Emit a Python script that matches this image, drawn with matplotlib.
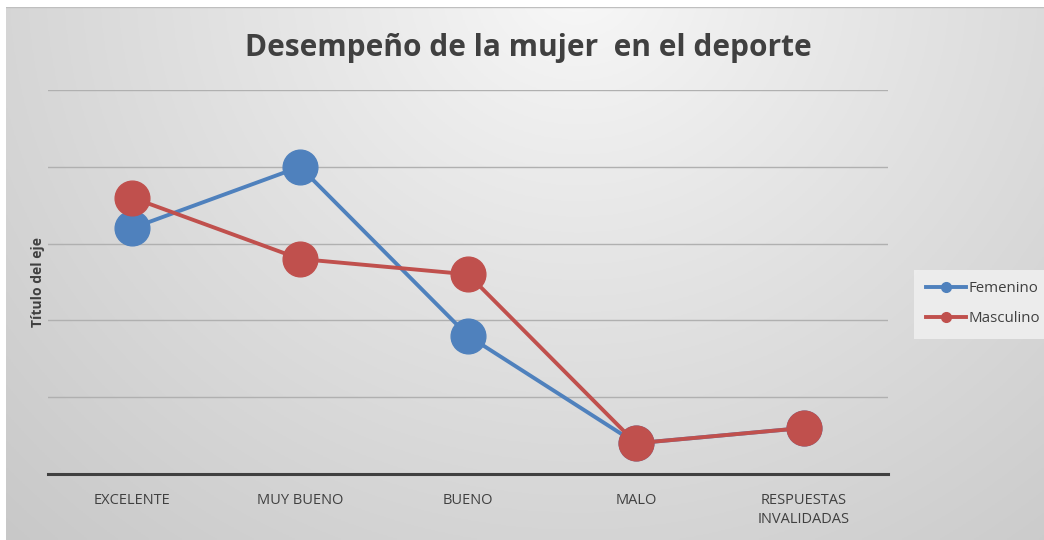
import numpy as np
import matplotlib
matplotlib.use("Agg")
import matplotlib.pyplot as plt
from matplotlib.lines import Line2D

categories = ["EXCELENTE", "MUY BUENO", "BUENO", "MALO", "RESPUESTAS\nINVALIDADAS"]
femenino = [16, 20, 9, 2, 3]
masculino = [18, 14, 13, 2, 3]
series_names = ["Femenino", "Masculino"]
colors = ["#4f81bd", "#c0504d"]

W, H = 1044, 540
fig = plt.figure(figsize=(W / 100, H / 100), dpi=100)
fig.patch.set_facecolor("white")

# background gradient panel
bg = fig.add_axes([6 / W, 0, (W - 6) / W, (H - 7) / H])
bg.set_axis_off()
ny, nx = 200, 400
yy, xx = np.mgrid[0:ny, 0:nx]
cx, cy = nx * 0.55, -ny * 0.05
d = np.sqrt(((xx - cx) / nx) ** 2 + ((yy - cy) / ny * 0.55) ** 2)
d = d / d.max()
val = 0.975 - 0.19 * np.clip(d, 0, 1) ** 0.9
img = np.dstack([val, val, val])
bg.imshow(img, aspect="auto", extent=[0, 1, 0, 1], origin="upper")
bg.set_xlim(0, 1)
bg.set_ylim(0, 1)
bg.axhline(1, color="#bfbfbf", lw=1)

# main axes
left, right, top, bottom = 48, 888, 90, 474
ax = fig.add_axes([left / W, 1 - bottom / H, (right - left) / W, (bottom - top) / H])
ax.patch.set_alpha(0)
x = np.arange(len(categories))
ax.set_xlim(-0.5, len(categories) - 0.5)
ax.set_ylim(0, 25)
ax.set_yticks([5, 10, 15, 20, 25])
ax.yaxis.grid(True, color="#b0b0b0", lw=1)
ax.set_axisbelow(True)
ax.tick_params(axis="y", left=False, labelleft=False)
ax.tick_params(axis="x", bottom=False, pad=10)
for s in ["top", "right", "left"]:
    ax.spines[s].set_visible(False)
ax.spines["bottom"].set_color("#404040")
ax.spines["bottom"].set_linewidth(2.2)
ax.set_xticks(x)
ax.set_xticklabels(categories, fontsize=10.5, color="#404040", family="Open Sans", linespacing=1.35)

for vals, c, n in zip([femenino, masculino], colors, series_names):
    ax.plot(x, vals, color=c, lw=2.8, marker="o", markersize=25, label=n, zorder=3)

ax.set_ylabel("Título del eje", fontsize=10, fontweight="bold", color="#404040",
              family="Open Sans", labelpad=2)

fig.text(528 / W, 1 - 48 / H, "Desempeño de la mujer  en el deporte", ha="center", va="center",
         fontsize=21.5, fontweight="bold", color="#404040", family="Open Sans")

handles = [Line2D([0], [0], color=c, lw=2.8, marker="o", markersize=7) for c in colors]
leg = fig.legend(handles, series_names, loc="center left", bbox_to_anchor=(906 / W, 1 - 304 / H),
                 frameon=True, fontsize=10.8, handlelength=2.7, labelspacing=1.0,
                 borderpad=0.8, handletextpad=0.2, fancybox=False)
leg.get_frame().set_facecolor("#efefef")
leg.get_frame().set_edgecolor("none")
leg.get_frame().set_alpha(0.9)
for t in leg.get_texts():
    t.set_color("#404040")
    t.set_family("Open Sans")

fig.savefig("out.png", dpi=100)
